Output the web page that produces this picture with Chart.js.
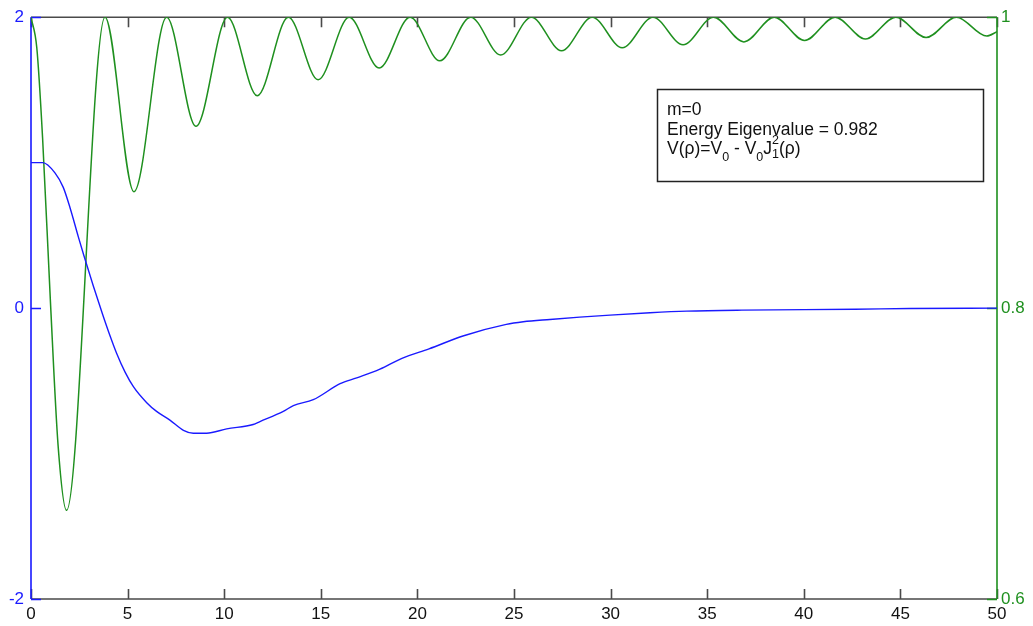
<!DOCTYPE html>
<html>
<head>
<meta charset="utf-8">
<script src="https://cdn.jsdelivr.net/npm/chart.js@4/dist/chart.umd.min.js"></script>
<style>
  html, body { margin: 0; padding: 0; background: #ffffff; }
  canvas { display: block; }
</style>
</head>
<body>
<canvas id="eigenChart" width="1033" height="626"></canvas>
<script>
// tick positions of the three axes
const X_TICKS = [0, 5, 10, 15, 20, 25, 30, 35, 40, 45, 50];
const LEFT_TICKS = [-2, 0, 2];
const RIGHT_TICKS = [0.6, 0.8, 1];

// blue curve: eigenfunction (left axis)
const PSI_X = [0, 0.6, 1.24, 1.67, 2.02, 2.45, 2.74, 3.23, 3.7, 4.09, 4.43, 4.87, 5.3, 5.99, 6.5,
  7.19, 7.89, 8.4, 9.09, 10.13, 11.5, 11.85, 13.06, 13.58, 14.61, 16.0, 16.86, 18.06, 19.2,
  20.6, 22.4, 24.6, 25.48, 26.86, 28.4, 29.97, 32.04, 33.94, 36.8, 42.65, 45.5, 50];
const PSI_Y = [1.0, 1.0, 0.93, 0.83, 0.69, 0.49, 0.36, 0.15, -0.04, -0.19, -0.31, -0.44, -0.54, -0.65, -0.71,
  -0.77, -0.84, -0.86, -0.86, -0.83, -0.80, -0.78, -0.71, -0.67, -0.63, -0.52, -0.48, -0.42, -0.345,
  -0.28, -0.19, -0.112, -0.094, -0.078, -0.062, -0.048, -0.032, -0.021, -0.014, -0.008, -0.003, 0];

// green curve: potential V(rho) (right axis), read at its peaks and troughs
const POT_X = [0, 0.3, 0.6, 1.0, 1.4, 1.84, 3.83, 5.33, 7.02, 8.54, 10.17, 11.71, 13.32, 14.86,
  16.47, 18.02, 19.62, 21.16, 22.76, 24.31, 25.9, 27.46, 29.05, 30.6, 32.19, 33.75, 35.33,
  36.9, 38.47, 40.04, 41.62, 43.19, 44.76, 46.33, 47.9, 49.47, 50];
const POT_Y = [1, 0.979, 0.917, 0.806, 0.706, 0.661, 1, 0.880, 1, 0.925, 1, 0.946, 1, 0.957,
  1, 0.965, 1, 0.970, 1, 0.974, 1, 0.977, 1, 0.979, 1, 0.981, 1,
  0.983, 1, 0.984, 1, 0.985, 1, 0.986, 1, 0.987, 0.990];

const BLUE = '#1a1aff';
const GREEN = '#1f901f';
const FRAME = '#4a4a4a';
const FONT = "'Liberation Sans', Arial, sans-serif";

function toPoints(xs, ys) {
    return xs.map((x, i) => ({ x: x, y: ys[i] }));
}

// frame with inward tick marks, like the original plot
const framePlugin = {
    id: 'frame',
    beforeDatasetsDraw(chart) {
        const { ctx, chartArea: a, scales } = chart;
        const len = 10;
        ctx.save();
        ctx.lineWidth = 1.6;

        ctx.strokeStyle = FRAME;
        ctx.beginPath();
        ctx.moveTo(a.left, a.top); ctx.lineTo(a.right, a.top);
        ctx.moveTo(a.left, a.bottom); ctx.lineTo(a.right, a.bottom);
        X_TICKS.forEach(v => {
            const px = Math.round(scales.x.getPixelForValue(v)) + 0.5;
            ctx.moveTo(px, a.top); ctx.lineTo(px, a.top + len);
            ctx.moveTo(px, a.bottom); ctx.lineTo(px, a.bottom - len);
        });
        ctx.stroke();

        ctx.strokeStyle = BLUE;
        ctx.beginPath();
        ctx.moveTo(a.left, a.top); ctx.lineTo(a.left, a.bottom);
        LEFT_TICKS.forEach(v => {
            const py = Math.round(scales.y.getPixelForValue(v)) + 0.5;
            ctx.moveTo(a.left, py); ctx.lineTo(a.left + len, py);
        });
        ctx.stroke();

        ctx.strokeStyle = GREEN;
        ctx.beginPath();
        ctx.moveTo(a.right, a.top); ctx.lineTo(a.right, a.bottom);
        RIGHT_TICKS.forEach(v => {
            const py = Math.round(scales.y1.getPixelForValue(v)) + 0.5;
            ctx.moveTo(a.right, py); ctx.lineTo(a.right - len, py);
        });
        ctx.stroke();
        ctx.restore();
    }
};

// text box in the upper right
const notePlugin = {
    id: 'note',
    afterDraw(chart) {
        const ctx = chart.ctx;
        ctx.save();
        ctx.fillStyle = '#ffffff';
        ctx.fillRect(657.5, 89.5, 326, 92);
        ctx.strokeStyle = '#222222';
        ctx.lineWidth = 1.5;
        ctx.strokeRect(657.5, 89.5, 326, 92);

        ctx.fillStyle = '#111111';
        ctx.textBaseline = 'middle';
        ctx.textAlign = 'left';
        const big = '17.5px ' + FONT;
        const small = '12.5px ' + FONT;
        ctx.font = big;
        ctx.fillText('m=0', 667, 110);
        ctx.fillText('Energy Eigenvalue = 0.982', 667, 130);

        let x = 667;
        const y = 149;
        const put = (txt, font, dy) => {
            ctx.font = font;
            ctx.fillText(txt, x, y + dy);
            x += ctx.measureText(txt).width;
        };
        put('V(\u03c1)=V', big, 0);
        put('0', small, 9);
        put(' - V', big, 0);
        put('0', small, 9);
        put('J', big, 0);
        ctx.font = small;
        ctx.fillText('2', x, y - 8);
        put('1', small, 6);
        put('(\u03c1)', big, 0);
        ctx.restore();
    }
};

new Chart(document.getElementById('eigenChart'), {
    type: 'line',
    data: {
        datasets: [{
            data: toPoints(PSI_X, PSI_Y),
            yAxisID: 'y',
            borderColor: BLUE,
            borderWidth: 1.4,
            pointRadius: 0,
            fill: false,
            cubicInterpolationMode: 'monotone'
        }, {
            data: toPoints(POT_X, POT_Y),
            yAxisID: 'y1',
            borderColor: GREEN,
            borderWidth: 1.5,
            pointRadius: 0,
            fill: false,
            cubicInterpolationMode: 'monotone'
        }]
    },
    options: {
        responsive: false,
        animation: false,
        layout: { padding: { top: 17, left: 0, right: 0, bottom: 0 } },
        plugins: { legend: { display: false }, tooltip: { enabled: false } },
        scales: {
            x: {
                type: 'linear',
                min: 0, max: 50,
                afterFit: s => { s.height = 27; },
                afterBuildTicks: s => { s.ticks = X_TICKS.map(v => ({ value: v })); },
                grid: { display: false, drawTicks: false },
                border: { display: false },
                ticks: { color: '#111111', padding: 5, autoSkip: false, maxRotation: 0,
                    font: { family: FONT, size: 17 } }
            },
            y: {
                position: 'left',
                min: -2, max: 2,
                afterFit: s => { s.width = 31; },
                afterBuildTicks: s => { s.ticks = LEFT_TICKS.map(v => ({ value: v })); },
                grid: { display: false, drawTicks: false },
                border: { display: false },
                ticks: { color: BLUE, padding: 7, font: { family: FONT, size: 17 } }
            },
            y1: {
                position: 'right',
                min: 0.6, max: 1,
                afterFit: s => { s.width = 36; },
                afterBuildTicks: s => { s.ticks = RIGHT_TICKS.map(v => ({ value: v })); },
                grid: { display: false, drawTicks: false },
                border: { display: false },
                ticks: { color: GREEN, padding: 4, font: { family: FONT, size: 17 },
                    callback: v => String(Math.round(v * 10) / 10) }
            }
        }
    },
    plugins: [framePlugin, notePlugin]
});
</script>
</body>
</html>
